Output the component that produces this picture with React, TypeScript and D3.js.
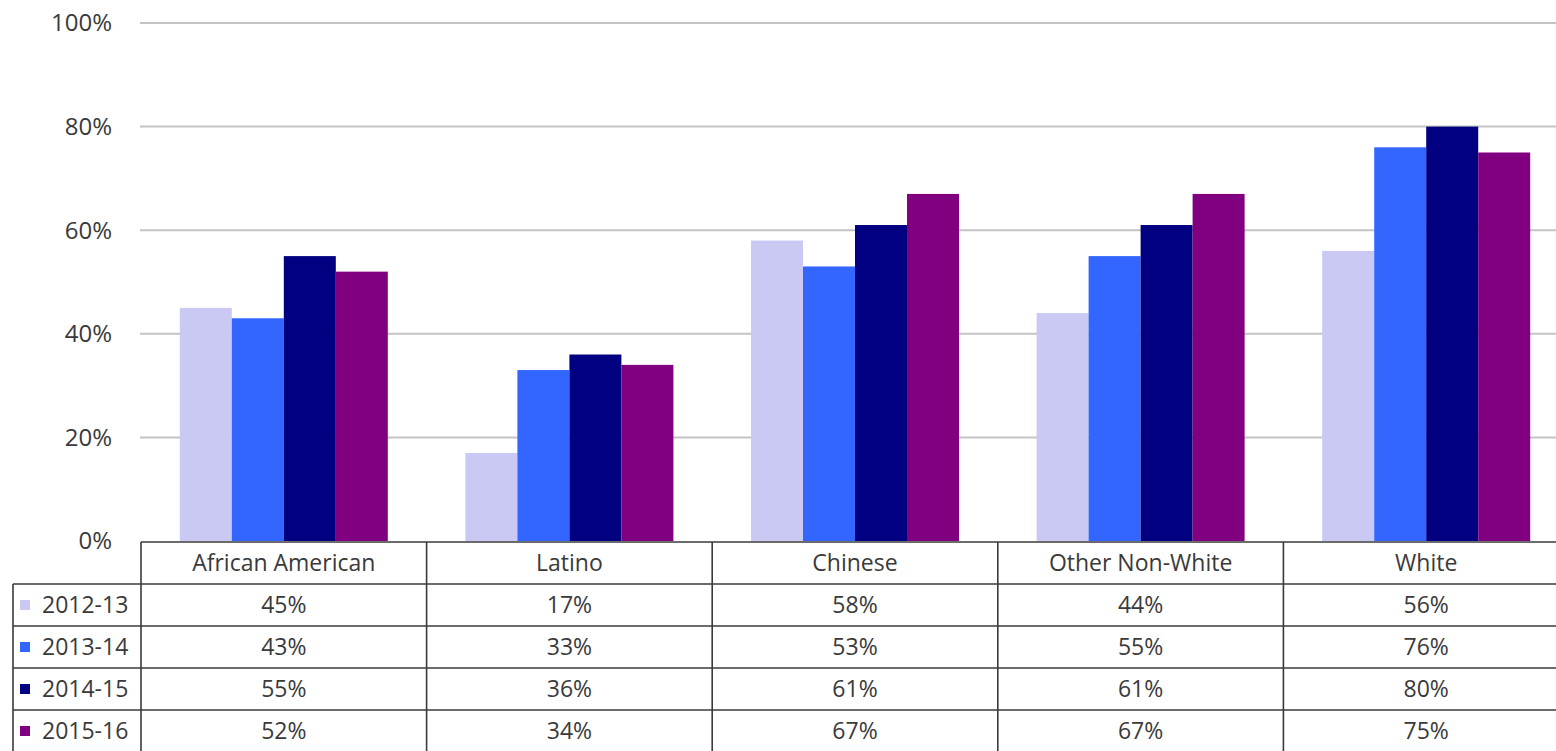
import React from "react";
import * as d3 from "d3";

const categories = ["African American", "Latino", "Chinese", "Other Non-White", "White"];
const seriesNames = ["2012-13", "2013-14", "2014-15", "2015-16"];
const values2012 = [45, 17, 58, 44, 56];
const values2013 = [43, 33, 53, 55, 76];
const values2014 = [55, 36, 61, 61, 80];
const values2015 = [52, 34, 67, 67, 75];
const seriesColors = ["#C9C9F4", "#3366FF", "#000080", "#800080"];
const yTicks = [0, 20, 40, 60, 80, 100];

const seriesValues = [values2012, values2013, values2014, values2015];

const W = 1556;
const H = 751;
const plotLeft = 141;
const colW = 285.6;
const y0 = 541;
const y100 = 23;
const tableTop = 542;
const headerH = 42;
const rowH = 42;
const legendLeft = 13;
const barW = 52;
const font = "'Open Sans', Lato, sans-serif";
const textColor = "#3a3a3a";
const lineColor = "#3a3a3a";

export default function App() {
  const x = d3.scaleBand<string>().domain(categories).range([plotLeft, plotLeft + colW * categories.length]).padding(0);
  const bw = x.bandwidth();
  const groupW = barW * seriesNames.length;
  const x1 = d3.scaleBand<string>().domain(seriesNames).range([(bw - groupW) / 2, (bw + groupW) / 2]).padding(0);
  const y = d3.scaleLinear().domain([0, 100]).range([y0, y100]);

  const tableRight = plotLeft + colW * categories.length;
  const rowTop = (i: number) => tableTop + headerH + i * rowH;

  return (
    <svg width={W} height={H} style={{ position: "absolute", left: 0, top: 0, background: "#fff" }} fontFamily={font}>
      {/* gridlines */}
      {yTicks.filter((t) => t > 0).map((t) => (
        <line key={t} x1={plotLeft - 1} x2={W} y1={y(t)} y2={y(t)} stroke="#c4c4c4" strokeWidth={2} />
      ))}
      {/* y labels */}
      {yTicks.map((t) => (
        <text key={t} x={112} y={y(t)} dy="0.35em" textAnchor="end" fontSize={24} fill={textColor}>
          {t}%
        </text>
      ))}
      {/* bars */}
      {categories.map((c, ci) => (
        <g key={c} transform={`translate(${x(c)},0)`}>
          {seriesNames.map((s, si) => (
            <rect
              key={s}
              x={x1(s)}
              y={y(seriesValues[si][ci])}
              width={x1.bandwidth()}
              height={y0 - y(seriesValues[si][ci])}
              fill={seriesColors[si]}
            />
          ))}
        </g>
      ))}
      {/* table lines */}
      <g stroke={lineColor} strokeWidth={1.6} fill="none">
        <line x1={plotLeft} x2={tableRight} y1={tableTop} y2={tableTop} />
        {seriesNames.map((s, i) => (
          <line key={s} x1={legendLeft} x2={tableRight} y1={rowTop(i)} y2={rowTop(i)} />
        ))}
        <line x1={legendLeft} x2={tableRight} y1={rowTop(seriesNames.length)} y2={rowTop(seriesNames.length)} />
        <line x1={legendLeft} x2={legendLeft} y1={rowTop(0)} y2={rowTop(seriesNames.length)} />
        {categories.map((c) => (
          <line key={c} x1={x(c)} x2={x(c)} y1={tableTop} y2={rowTop(seriesNames.length)} />
        ))}
        <line x1={tableRight} x2={tableRight} y1={tableTop} y2={rowTop(seriesNames.length)} />
      </g>
      {/* header */}
      {categories.map((c) => (
        <text key={c} x={(x(c) as number) + bw / 2} y={tableTop + headerH / 2} dy="0.35em" textAnchor="middle" fontSize={23} fill={textColor}>
          {c}
        </text>
      ))}
      {/* rows */}
      {seriesNames.map((s, si) => (
        <g key={s}>
          <rect x={20} y={rowTop(si) + rowH / 2 - 5} width={10} height={10} fill={seriesColors[si]} />
          <text x={42} y={rowTop(si) + rowH / 2} dy="0.35em" fontSize={23} fill={textColor}>
            {s}
          </text>
          {categories.map((c, ci) => (
            <text key={c} x={(x(c) as number) + bw / 2} y={rowTop(si) + rowH / 2} dy="0.35em" textAnchor="middle" fontSize={23} fill={textColor}>
              {seriesValues[si][ci]}%
            </text>
          ))}
        </g>
      ))}
    </svg>
  );
}
